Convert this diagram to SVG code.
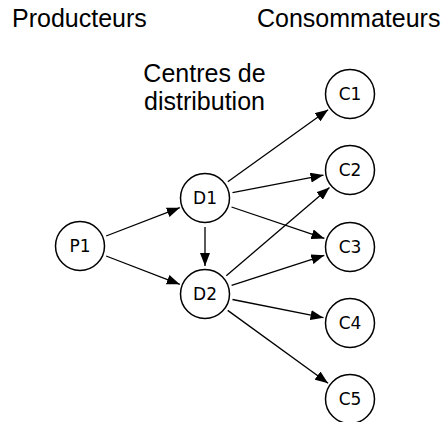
<svg xmlns="http://www.w3.org/2000/svg" width="445" height="422" viewBox="0 0 445 422">
<defs>
<marker id="arr" markerUnits="userSpaceOnUse" markerWidth="13" markerHeight="10" refX="13" refY="5" orient="auto">
<path d="M0,0 L13,5 L0,10 z" fill="#000"/>
</marker>
</defs>
<style>
.hdr{font-family:"Liberation Sans",Arial,sans-serif;font-size:25px;fill:#000}
.node circle{fill:#fff;stroke:#000;stroke-width:1.5}
.node text{font-family:"DejaVu Sans",sans-serif;font-size:17px;fill:#000;text-anchor:middle}
.edge line{stroke:#000;stroke-width:1.3;marker-end:url(#arr)}
</style>
<rect width="445" height="422" fill="#fff"/>
<g id="labels">
<text class="hdr" x="12" y="27">Producteurs</text>
<text class="hdr" x="257" y="27">Consommateurs</text>
<text class="hdr" x="204.5" y="82" text-anchor="middle">Centres de</text>
<text class="hdr" x="204.5" y="110" text-anchor="middle">distribution</text>
</g>
<g id="connectors" class="edge">
<line x1="106.1" y1="236.0" x2="179.8" y2="207.7"/>
<line x1="106.1" y1="256.0" x2="179.8" y2="284.3"/>
<line x1="205" y1="227" x2="205" y2="266"/>
<line x1="227.8" y1="181.7" x2="328.1" y2="109.7"/>
<line x1="232.5" y1="192.7" x2="323.5" y2="175.1"/>
<line x1="231.5" y1="207.0" x2="324.4" y2="238.4"/>
<line x1="226.3" y1="275.8" x2="329.5" y2="187.5"/>
<line x1="231.6" y1="285.4" x2="324.3" y2="255.3"/>
<line x1="232.5" y1="299.5" x2="323.5" y2="317.7"/>
<line x1="227.7" y1="310.4" x2="328.1" y2="383.2"/>
</g>
<g id="P1" class="node"><circle cx="80" cy="246" r="24.5"/><text x="80" y="252">P1</text></g>
<g id="D1" class="node"><circle cx="205" cy="198" r="24.5"/><text x="205" y="204">D1</text></g>
<g id="D2" class="node"><circle cx="205" cy="294" r="24.5"/><text x="205" y="300">D2</text></g>
<g id="C1" class="node"><circle cx="350" cy="94" r="24.5"/><text x="350" y="100">C1</text></g>
<g id="C2" class="node"><circle cx="350" cy="170" r="24.5"/><text x="350" y="176">C2</text></g>
<g id="C3" class="node"><circle cx="350" cy="247" r="24.5"/><text x="350" y="253">C3</text></g>
<g id="C4" class="node"><circle cx="350" cy="323" r="24.5"/><text x="350" y="329">C4</text></g>
<g id="C5" class="node"><circle cx="350" cy="399" r="24.5"/><text x="350" y="405">C5</text></g>
</svg>
